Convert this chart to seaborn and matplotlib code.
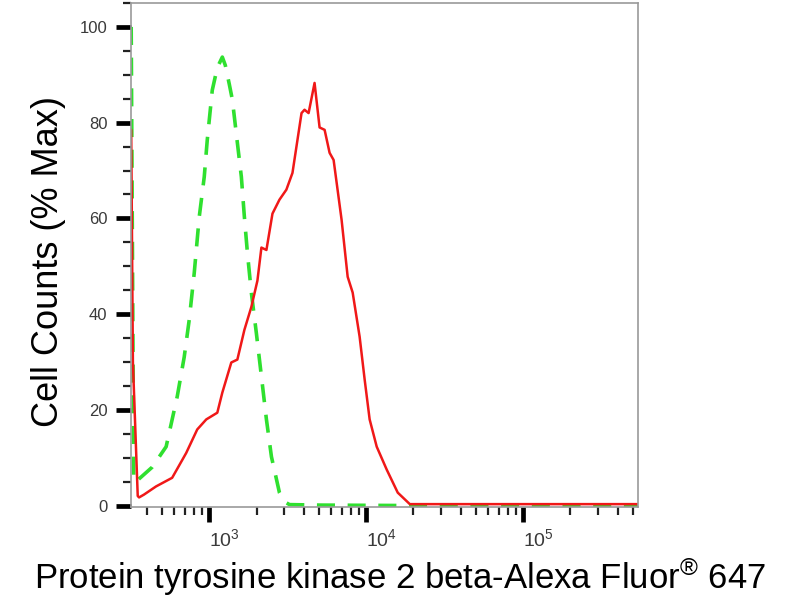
import numpy as np
import pandas as pd
import matplotlib
matplotlib.use("Agg")
import matplotlib.pyplot as plt
import seaborn as sns
from matplotlib.ticker import FixedLocator, MultipleLocator, LogLocator, NullFormatter

# isotype control (green dashed)
green_x = [318, 330, 352, 432, 531, 625, 692, 745, 802, 863, 929, 971, 1045, 1125,
           1211, 1265, 1342, 1403, 1510, 1601, 1674, 1750, 1854, 1996, 2149, 2313,
           2490, 2680, 2800, 3015, 3245, 5000, 20000, 100000, 543000]
green_y = [100, 5.0, 5.4, 8.0, 12.3, 22.8, 31, 38.8, 48.6, 60.3, 68.7, 76.4, 86.8, 91.5,
           93.7, 92, 88, 84.8, 75.8, 68.7, 60.3, 52.8, 44.5, 36, 27, 18,
           10.2, 5.5, 2.7, 0.8, 0.2, 0.1, 0.0, 0.0, 0.0]

# PTK2B stained sample (red solid)
red_x = [318, 326, 350, 357, 384, 458, 580, 672, 713, 838, 957, 1125, 1211, 1382,
         1510, 1674, 1854, 2027, 2149, 2313, 2528, 2800, 3100, 3390, 3872, 4046,
         4295, 4688, 5046, 5433, 5845, 6200, 6970, 7620, 8200, 9080, 9780, 10520,
         11670, 13520, 15890, 18970, 30000, 100000, 543000]
red_y = [78.5, 30, 2.0, 1.7, 2.3, 4.0, 5.8, 9.5, 11, 15.9, 18, 19.4, 23.6, 29.9,
         30.5, 36.7, 41.5, 47, 53.9, 53.4, 61, 63.9, 66, 69.5, 82, 82.7,
         82, 88.3, 79, 78.5, 73.7, 72.2, 59.7, 47.8, 44.5, 35.3, 26.3, 18,
         12.3, 7.5, 2.7, 0.3, 0.3, 0.3, 0.3]

y_ticks = [0, 20, 40, 60, 80, 100]
x_ticks = [1e3, 1e4, 1e5]
x_tick_labels = ["$10^3$", "$10^4$", "$10^5$"]

green_df = pd.DataFrame({"x": green_x, "y": green_y})
red_df = pd.DataFrame({"x": red_x, "y": red_y})

sns.set_style("ticks")
plt.rcParams["font.family"] = ["Liberation Sans", "DejaVu Sans"]
plt.rcParams["mathtext.fontset"] = "custom"
plt.rcParams["mathtext.rm"] = "Liberation Sans"
plt.rcParams["mathtext.it"] = "Liberation Sans:italic"
plt.rcParams["mathtext.bf"] = "Liberation Sans:bold"

fig = plt.figure(figsize=(8, 6), dpi=100)
ax = fig.add_axes([0.164, 0.155, 0.634, 0.84])

sns.lineplot(data=green_df, x="x", y="y", ax=ax, color="#2fe02f", linewidth=2.6,
             linestyle=(0, (5, 3.5)), sort=False)
sns.lineplot(data=red_df, x="x", y="y", ax=ax, color="#f01818", linewidth=1.8, sort=False)

ax.set_xscale("log")
ax.set_xlim(318, 543000)
ax.set_ylim(-0.3, 105)

ax.xaxis.set_major_locator(FixedLocator(x_ticks))
ax.xaxis.set_minor_locator(LogLocator(base=10, subs=np.arange(2, 10)))
ax.xaxis.set_minor_formatter(NullFormatter())
ax.yaxis.set_major_locator(FixedLocator(y_ticks))
ax.yaxis.set_minor_locator(MultipleLocator(5))

ax.tick_params(axis="both", which="major", length=11, width=3.4, color="black",
               labelcolor="#3a3a3a")
ax.tick_params(axis="both", which="minor", length=5.5, width=1.6, color="#222222")
ax.tick_params(axis="y", which="major", labelsize=12, pad=6)
ax.tick_params(axis="x", which="major", pad=4)
ax.set_xticklabels(x_tick_labels, fontsize=14, ha="left", color="#3a3a3a")

for side in ["top", "right", "left", "bottom"]:
    ax.spines[side].set_color("#9a9a9a")
    ax.spines[side].set_linewidth(1.2)

ax.set_ylabel("Cell Counts (% Max)", fontsize=26, color="black")
ax.yaxis.set_label_coords(-0.128, 0.488)
ax.set_xlabel("Protein tyrosine kinase 2 beta-Alexa Fluor$^{\u00ae}$ 647",
              fontsize=25, color="black")
ax.xaxis.set_label_coords(0.5306, -0.097)

fig.savefig("out.png", dpi=100)
